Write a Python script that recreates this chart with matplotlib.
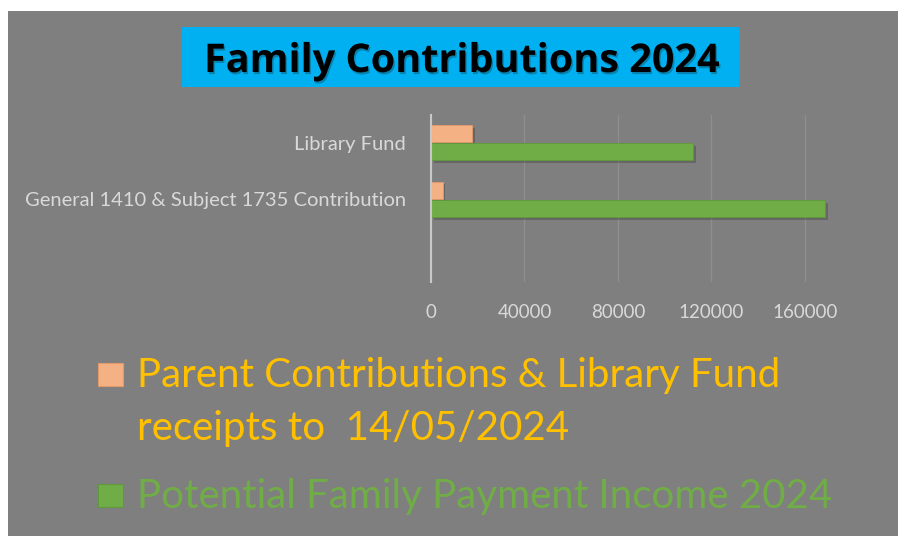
import matplotlib.pyplot as plt
import matplotlib.patheffects as pe
from matplotlib.patches import Rectangle
import numpy as np

# Data
categories = ["General 1410 & Subject 1735 Contribution", "Library Fund"]
receipts = [4960, 17500]        # Parent Contributions & Library Fund receipts
potential = [168700, 112100]    # Potential Family Payment Income
series_labels = ["Parent Contributions & Library Fund\nreceipts to  14/05/2024",
                 "Potential Family Payment Income 2024"]
xticks = [0, 40000, 80000, 120000, 160000]

plt.rcParams['font.family'] = ['Lato', 'DejaVu Sans']

W, H = 898, 536
fig = plt.figure(figsize=(W / 100, H / 100), dpi=100, facecolor='white')

# gray background panel
fig.patches.append(Rectangle((8 / W, 0), 1 - 8 / W, 1 - 11 / H, transform=fig.transFigure,
                             facecolor='#7f7f7f', edgecolor='none', zorder=-10))

# title box
fig.patches.append(Rectangle((182 / W, 1 - 87 / H), (739 - 182) / W, 60 / H, transform=fig.transFigure,
                             facecolor='#00b0f0', edgecolor='none', zorder=-9))
fig.text(462 / W, 1 - 72 / H, "Family Contributions 2024", ha='center', va='baseline',
         fontsize=28.5, fontweight='bold', color='black', family=['Open Sans', 'DejaVu Sans'],
         path_effects=[pe.withSimplePatchShadow(offset=(1, -1.5), shadow_rgbFace='#1a1a1a', alpha=0.3)])

# axes
left, right, top, bottom = 431, 833, 115, 282
ax = fig.add_axes([left / W, 1 - bottom / H, (right - left) / W, (bottom - top) / H], zorder=5)
ax.set_facecolor('none')

y = np.arange(len(categories))
h = 0.3
shadow = [pe.SimplePatchShadow(offset=(2, -2), shadow_rgbFace='#3a3a3a', alpha=0.35), pe.Normal()]
b1 = ax.barh(y + 0.165, receipts, height=h, color='#f4b183', edgecolor='#e39a6a', linewidth=0.6,
             path_effects=shadow, zorder=3)
b2 = ax.barh(y - 0.16, potential, height=h, color='#70ad47', edgecolor='#5f9a3a', linewidth=0.6,
             path_effects=shadow, zorder=3)

ax.set_xlim(0, 172000)
ax.set_ylim(-1.46, 1.49)
ax.set_xticks(xticks)
ax.set_xticklabels([str(v) for v in xticks])
ax.set_yticks(y)
ax.set_yticklabels(categories)
ax.tick_params(axis='x', length=0, pad=16, labelsize=13.5, colors='#d9d9d9')
ax.tick_params(axis='y', length=0, pad=18, labelsize=14.5, colors='#d9d9d9')
ax.grid(axis='x', color='#8e8e8e', linewidth=1.0, zorder=0)
for s in ['top', 'right', 'bottom']:
    ax.spines[s].set_visible(False)
ax.spines['left'].set_color('#c8c8c8')
ax.spines['left'].set_linewidth(1.5)
ax.spines['left'].set_zorder(4)

# legend (drawn by hand so the square sits on the first line)
legend_rows = [(b1, '#ffc000', 387), (b2, '#70ad47', 508)]
for (bars, tcolor, base), label in zip(legend_rows, series_labels):
    patch = bars.patches[0]
    fig.patches.append(Rectangle((98 / W, 1 - (base - 1) / H), 25 / W, 23 / H, transform=fig.transFigure,
                                 facecolor=patch.get_facecolor(), edgecolor=patch.get_edgecolor(),
                                 linewidth=0.8, zorder=2))
    for k, line in enumerate(label.split('\n')):
        fig.text(137 / W, 1 - (base + 53 * k) / H, line, ha='left', va='baseline',
                 fontsize=29, color=tcolor)

fig.savefig("out.png", dpi=100, facecolor='white')
